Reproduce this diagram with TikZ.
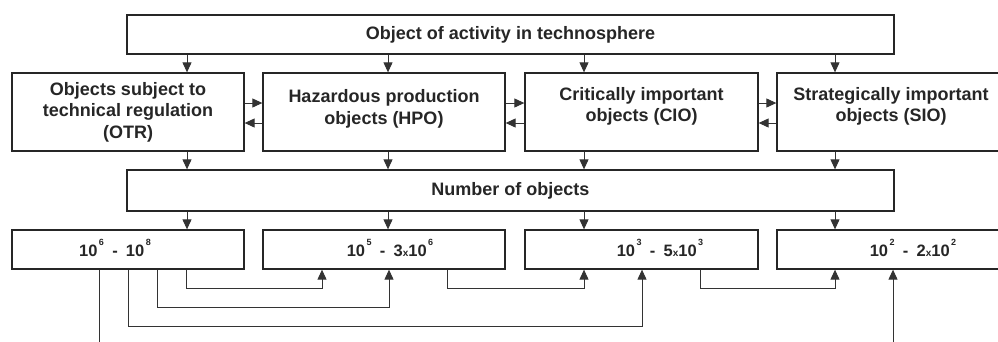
\documentclass[tikz,border=0pt]{standalone}
\usepackage{fontspec}
\setmainfont{Liberation Sans}
\usetikzlibrary{arrows.meta}
\tikzset{
  box/.style={draw=black!85, line width=1.3pt, fill=white, inner sep=0pt, align=center,
    font=\fontsize{18}{21.5}\selectfont\bfseries, text=black!85},
  numtxt/.style={inner sep=0pt, font=\fontsize{16.5}{18}\selectfont\bfseries, text=black!85},
  arr/.style={draw=black!80, line width=1pt, -{Triangle[length=10pt,width=9pt]}},
  ln/.style={draw=black!80, line width=1pt}
}
\newcommand{\smallx}{{\fontsize{10}{10}\selectfont x}}
\newcommand{\mysup}[1]{\kern1.5pt\raisebox{0.62em}{\fontsize{9}{9}\selectfont #1}}
\begin{document}
\begin{tikzpicture}[x=1pt,y=-1pt]
\useasboundingbox (0,0) rectangle (998,341);
\begin{scope}
\clip (0,0) rectangle (998,341);
% boxes
\node[box, minimum width=767pt, minimum height=39pt] (top) at (510.5,34.5) {Object of activity in technosphere};
\node[box, minimum width=232pt, minimum height=78pt] (otr) at (128,112) {Objects subject to\\technical regulation\\(OTR)};
\node[box, minimum width=242pt, minimum height=78pt] (hpo) at (384,112) {};
\node[box, minimum width=233pt, minimum height=78pt] (cio) at (641.5,112) {};
\node[box, minimum width=228pt, minimum height=78pt] (sio) at (891,112) {};
\node[box, draw=none, fill=none] (thpo) at (384,109) {Hazardous production\\objects (HPO)};
\node[box, draw=none, fill=none] (tcio) at (641.5,106.5) {Critically important\\objects (CIO)};
\node[box, draw=none, fill=none] (tsio) at (891,106.5) {Strategically important\\objects (SIO)};
\node[box, minimum width=767pt, minimum height=41pt] (num) at (510.5,190.5) {Number of objects};
\node[box, minimum width=232pt, minimum height=39pt] (n1) at (128,249.5) {};
\node[box, minimum width=242pt, minimum height=39pt] (n2) at (384,249.5) {};
\node[box, minimum width=233pt, minimum height=39pt] (n3) at (641.5,249.5) {};
\node[box, minimum width=228pt, minimum height=39pt] (n4) at (891,249.5) {};
\node[numtxt, anchor=base] (t1) at (115,256) {10\mysup{6}\enspace-\enspace10\mysup{8}};
\node[numtxt, anchor=base] (t2) at (390,256) {10\mysup{5}\enspace-\enspace3\smallx10\mysup{6}};
\node[numtxt, anchor=base] (t3) at (660,256) {10\mysup{3}\enspace-\enspace5\smallx10\mysup{3}};
\node[numtxt, anchor=base] (t4) at (913,256) {10\mysup{2}\enspace-\enspace2\smallx10\mysup{2}};
% columns
\coordinate (ca) at (187,0);
\coordinate (cb) at (388,0);
\coordinate (cc) at (584,0);
\coordinate (cd) at (835,0);
\coordinate (ya) at (0,103);
\coordinate (yb) at (0,123);
% vertical arrows
\foreach \c/\u/\m in {ca/otr/n1, cb/hpo/n2, cc/cio/n3, cd/sio/n4}{
  \draw[arr] (top.south -| \c) -- (\u.north -| \c);
  \draw[arr] (\u.south -| \c) -- (num.north -| \c);
  \draw[arr] (num.south -| \c) -- (\m.north -| \c);
}
% horizontal arrows
\draw[arr] (otr.east |- ya) -- (hpo.west |- ya);
\draw[arr] (hpo.west |- yb) -- (otr.east |- yb);
\draw[arr] (hpo.east |- ya) -- (cio.west |- ya);
\draw[arr] (cio.west |- yb) -- (hpo.east |- yb);
\draw[arr] (cio.east |- ya) -- (sio.west |- ya);
\draw[arr] (sio.west |- yb) -- (cio.east |- yb);
% bottom connectors
\coordinate (e1) at (99,345);
\coordinate (e2) at (893,345);
\coordinate (p1) at (128,0);
\coordinate (p2) at (157,0);
\coordinate (p3) at (186,0);
\coordinate (q1) at (322,0);
\coordinate (q2) at (389,0);
\coordinate (q3) at (447,0);
\coordinate (r1) at (642,0);
\coordinate (r2) at (700,0);
\coordinate (s2) at (893,0);
\draw[ln] (n1.south -| e1) -- (e1);
\draw[arr] (n1.south -| p1) -- (128,326) -| (n3.south -| r1);
\draw[arr] (n1.south -| p2) -- (157,307) -| (n2.south -| q2);
\draw[arr] (n1.south -| p3) -- (186,288) -| (n2.south -| q1);
\draw[arr] (n2.south -| q3) -- (447,288) -| (n3.south -| cc);
\draw[arr] (n3.south -| r2) -- (700,288) -| (n4.south -| cd);
\draw[arr] (e2) -- (n4.south -| s2);
\end{scope}
\end{tikzpicture}
\end{document}
